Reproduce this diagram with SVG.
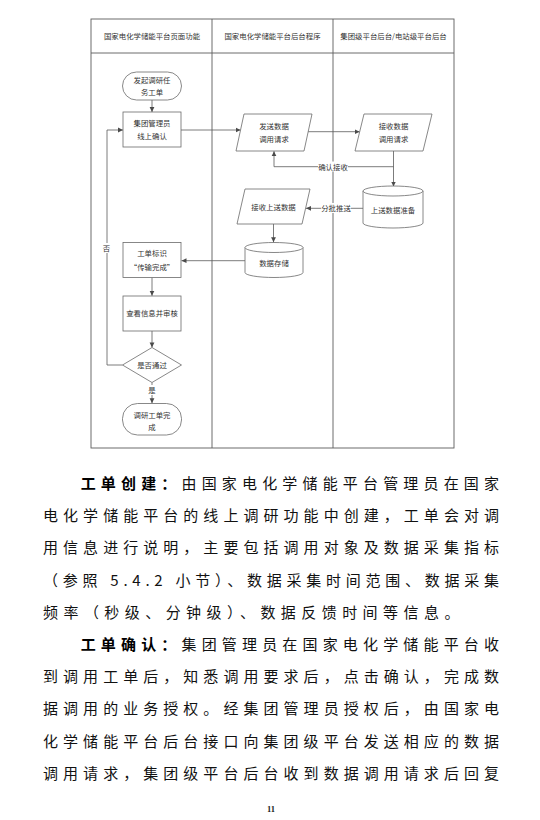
<svg xmlns="http://www.w3.org/2000/svg" width="540" height="820" viewBox="0 0 540 820">
<style>
.frame{fill:none;stroke:#5c5c5c;stroke-width:0.9}
.node{fill:#fff;stroke:#6a6a6a;stroke-width:0.8}
.edge{fill:none;stroke:#5a5a5a;stroke-width:0.8}
.t{font-family:"Noto Sans CJK SC","Noto Sans",sans-serif;font-size:7.4px;fill:#333;text-anchor:middle}
.lbl{fill:#fff;stroke:none}
.body{font-family:"Noto Sans CJK SC","Noto Sans",sans-serif;font-size:15px;fill:#111}
.b{font-weight:700;fill:#000}
.pg{font-family:"Liberation Serif",serif;font-size:8.5px;font-weight:700;fill:#222;text-anchor:middle}
</style>
<defs>
<marker id="ah" markerWidth="6" markerHeight="6" refX="5" refY="3" orient="auto" markerUnits="userSpaceOnUse">
<path d="M0,0.6 L5,3 L0,5.4 Z" fill="#4a4a4a"/>
</marker>
</defs>
<rect width="540" height="820" fill="#fff"/>

<g id="swimlanes">
<rect class="frame" x="91" y="19" width="363" height="429"/>
<line class="frame" x1="91" y1="53" x2="454" y2="53"/>
<line class="frame" x1="212" y1="19" x2="212" y2="448"/>
<line class="frame" x1="333" y1="19" x2="333" y2="448"/>
<text class="t" x="152" y="38.7">国家电化学储能平台页面功能</text>
<text class="t" x="272.5" y="38.7">国家电化学储能平台后台程序</text>
<text class="t" x="393.5" y="38.7">集团级平台后台/电站级平台后台</text>
</g>

<g id="connectors">
<line class="edge" x1="152" y1="100" x2="152" y2="112" marker-end="url(#ah)"/>
<line class="edge" x1="181" y1="130" x2="240.5" y2="130" marker-end="url(#ah)"/>
<line class="edge" x1="308" y1="131.7" x2="359.6" y2="131.7" marker-end="url(#ah)"/>
<line class="edge" x1="393.5" y1="151" x2="393.5" y2="186.5" marker-end="url(#ah)"/>
<polyline class="edge" points="393.5,166.7 274,166.7 274,151.2" marker-end="url(#ah)"/>
<rect class="lbl" x="318" y="161.5" width="30" height="10"/>
<text class="t" x="333" y="169.5">确认接收</text>
<line class="edge" x1="363" y1="208.3" x2="306" y2="208.3" marker-end="url(#ah)"/>
<rect class="lbl" x="321" y="203" width="30" height="10"/>
<text class="t" x="336" y="211">分批推送</text>
<line class="edge" x1="273.5" y1="224" x2="273.5" y2="242.3" marker-end="url(#ah)"/>
<line class="edge" x1="245" y1="260.7" x2="181.5" y2="260.7" marker-end="url(#ah)"/>
<line class="edge" x1="152" y1="277.5" x2="152" y2="295.8" marker-end="url(#ah)"/>
<line class="edge" x1="152" y1="331" x2="152" y2="347.4" marker-end="url(#ah)"/>
<polyline class="edge" points="122.5,365 107,365 107,130 123,130" marker-end="url(#ah)"/>
<rect class="lbl" x="102" y="243" width="9" height="10"/>
<text class="t" x="106.5" y="251">否</text>
<line class="edge" x1="152" y1="382.5" x2="152" y2="403.2" marker-end="url(#ah)"/>
<rect class="lbl" x="147.5" y="385" width="9" height="10"/>
<text class="t" x="152" y="392.8">是</text>
</g>

<g id="n-start">
<rect class="node" x="122.5" y="72" width="59" height="28" rx="14" ry="14"/>
<text class="t" x="152" y="82.5">发起调研任</text>
<text class="t" x="152" y="94.5">务工单</text>
</g>
<g id="n-confirm">
<rect class="node" x="123" y="112" width="58" height="35"/>
<text class="t" x="152" y="126">集团管理员</text>
<text class="t" x="152" y="138.8">线上确认</text>
</g>
<g id="n-send">
<polygon class="node" points="244,114 312,114 304,151 236,151"/>
<text class="t" x="274" y="128.8">发送数据</text>
<text class="t" x="274" y="141.8">调用请求</text>
</g>
<g id="n-receive">
<polygon class="node" points="364,114 432,114 423,151 355,151"/>
<text class="t" x="393.5" y="128.8">接收数据</text>
<text class="t" x="393.5" y="141.8">调用请求</text>
</g>
<g id="n-prepare">
<path class="node" d="M363,191 A30,5 0 0 1 423,191 L423,223 A30,5 0 0 1 363,223 Z"/>
<path class="node" d="M363,191 A30,5 0 0 0 423,191" fill="none"/>
<text class="t" x="393" y="213">上送数据准备</text>
</g>
<g id="n-recvupload">
<polygon class="node" points="245,189 310,189 302,224 237,224"/>
<text class="t" x="273.5" y="209.8">接收上送数据</text>
</g>
<g id="n-storage">
<path class="node" d="M245,247.5 A29,5 0 0 1 303,247.5 L303,272.5 A29,5 0 0 1 245,272.5 Z"/>
<path class="node" d="M245,247.5 A29,5 0 0 0 303,247.5" fill="none"/>
<text class="t" x="274" y="266">数据存储</text>
</g>
<g id="n-mark">
<rect class="node" x="123" y="242.5" width="58" height="35"/>
<text class="t" x="152" y="256">工单标识</text>
<text class="t" x="152" y="269.5">“传输完成”</text>
</g>
<g id="n-review">
<rect class="node" x="123" y="296" width="58" height="35"/>
<text class="t" x="152" y="316">查看信息并审核</text>
</g>
<g id="n-decision">
<polygon class="node" points="152,347.5 181.5,365 152,382.5 122.5,365"/>
<text class="t" x="152" y="367.8">是否通过</text>
</g>
<g id="n-end">
<rect class="node" x="122.5" y="403.5" width="59" height="31.5" rx="15" ry="15"/>
<text class="t" x="152" y="417.8">调研工单完</text>
<text class="t" x="152" y="430">成</text>
</g>

<g id="body-text">
<text class="body" x="80.7" y="489" textLength="418.3" lengthAdjust="spacing"><tspan class="b">工单创建：</tspan>由国家电化学储能平台管理员在国家</text>
<text class="body" x="43" y="521.2" textLength="456" lengthAdjust="spacing">电化学储能平台的线上调研功能中创建，工单会对调</text>
<text class="body" x="43" y="553.4" textLength="456" lengthAdjust="spacing">用信息进行说明，主要包括调用对象及数据采集指标</text>
<text class="body" x="43" y="585.6" textLength="456" lengthAdjust="spacing">（参照 5.4.2 小节）、数据采集时间范围、数据采集</text>
<text class="body" x="43" y="617.8" textLength="416.4" lengthAdjust="spacing">频率（秒级、分钟级）、数据反馈时间等信息。</text>
<text class="body" x="80.7" y="650" textLength="418.3" lengthAdjust="spacing"><tspan class="b">工单确认：</tspan>集团管理员在国家电化学储能平台收</text>
<text class="body" x="43" y="682.2" textLength="456" lengthAdjust="spacing">到调用工单后，知悉调用要求后，点击确认，完成数</text>
<text class="body" x="43" y="714.4" textLength="456" lengthAdjust="spacing">据调用的业务授权。经集团管理员授权后，由国家电</text>
<text class="body" x="43" y="746.6" textLength="456" lengthAdjust="spacing">化学储能平台后台接口向集团级平台发送相应的数据</text>
<text class="body" x="43" y="778.8" textLength="456" lengthAdjust="spacing">调用请求，集团级平台后台收到数据调用请求后回复</text>
<text class="pg" x="271" y="812">11</text>
</g>
</svg>
